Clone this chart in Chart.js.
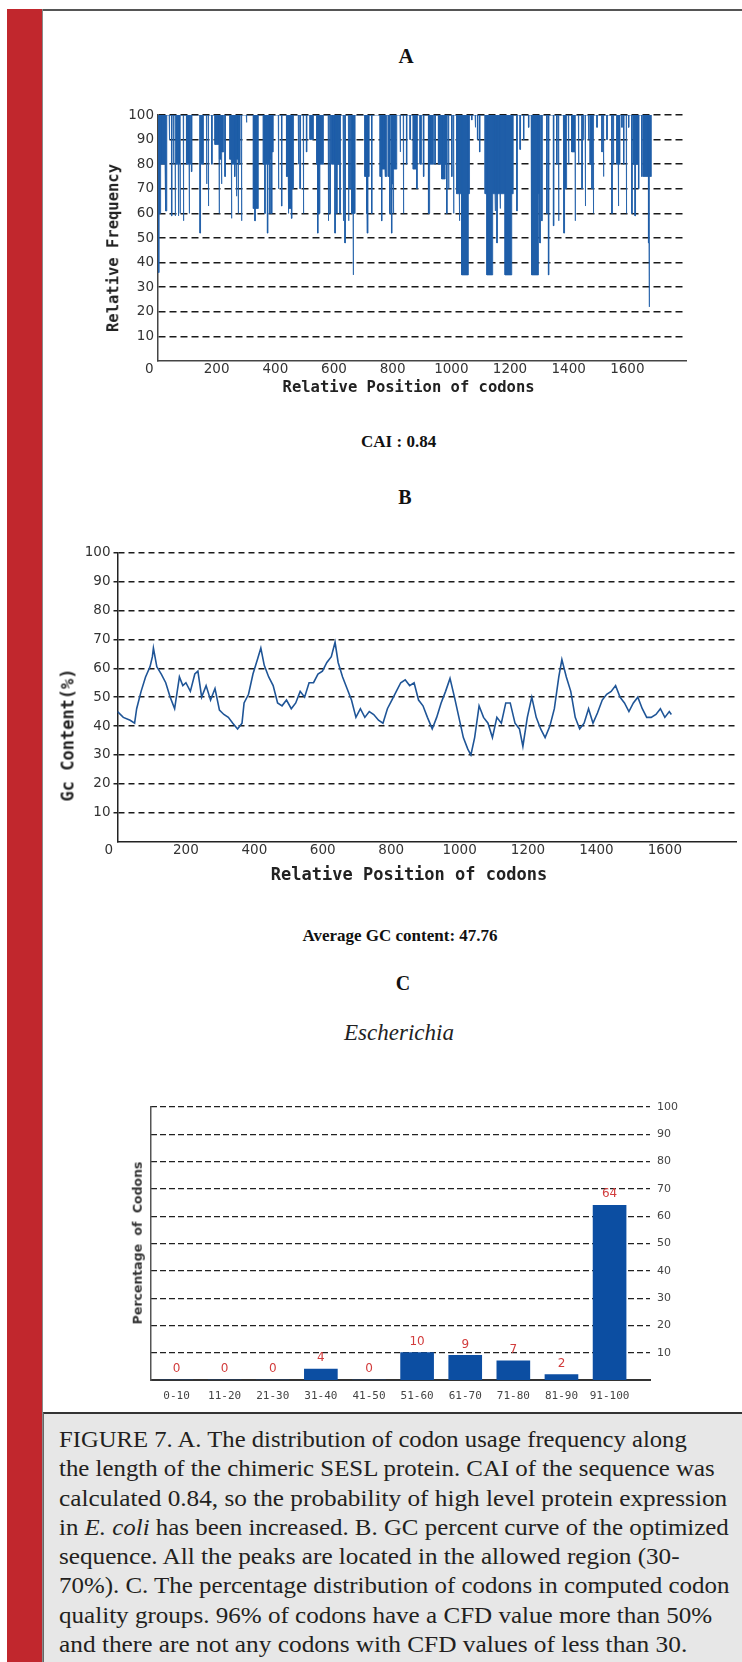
<!DOCTYPE html>
<html>
<head>
<meta charset="utf-8">
<script src="https://cdn.jsdelivr.net/npm/chart.js@4.4.1/dist/chart.umd.min.js"></script>
<style>
  html, body { margin: 0; padding: 0; background: #fff; }
  body { width: 742px; height: 1662px; position: relative; overflow: hidden; }
  #redbar { position: absolute; left: 7px; top: 9px; width: 36px; height: 1653px; background: #c1272d; border-right: 1px solid #8a8a8a; box-sizing: border-box; }
  #topline { position: absolute; left: 43px; top: 9px; width: 699px; height: 2px; background: #555; }
  .head { position: absolute; width: 400px; text-align: center; font-family: "Liberation Serif", serif; font-weight: bold; line-height: 1; color: #111; white-space: nowrap; }
  .axt { position: absolute; white-space: nowrap; line-height: 1; font-family: "DejaVu Sans Mono", monospace; font-weight: bold; color: #222; transform: translate(-50%, -50%); }
  .axt.rot { transform: translate(-50%, -50%) rotate(-90deg); }
  #caption { position: absolute; left: 43px; top: 1412px; width: 699px; height: 250px; background: #e7e7e7; border-top: 2px solid #333; border-left: 1px solid #666; box-sizing: border-box; }
  .cl { position: absolute; left: 15px; white-space: nowrap; font-family: "Liberation Serif", serif; font-size: 24px; line-height: 1; color: #231f20; transform-origin: 0 0; }
  canvas { position: absolute; }
</style>
</head>
<body>
<div id="redbar"></div>
<div id="topline"></div>

<div class="head" style="left:206px; top:46px; font-size:21px;">A</div>
<canvas id="chartA" width="698" height="310" style="left:44px; top:95px;"></canvas>
<div class="axt rot" style="left:113.6px; top:248px; font-size:15.5px;">Relative Frequency</div>
<div class="axt" style="left:408.6px; top:388px; font-size:15.5px;">Relative Position of codons</div>
<div class="head" style="left:198.6px; top:432.5px; font-size:17px;">CAI : 0.84</div>

<div class="head" style="left:205px; top:487px; font-size:20px;">B</div>
<canvas id="chartB" width="702" height="370" style="left:40px; top:530px;"></canvas>
<div class="axt rot" style="left:68px; top:735px; font-size:17px;">Gc Content(%)</div>
<div class="axt" style="left:409px; top:874px; font-size:17px;">Relative Position of codons</div>
<div class="head" style="left:200px; top:926.5px; font-size:17px;">Average GC content: 47.76</div>

<div class="head" style="left:203px; top:973px; font-size:20px;">C</div>
<div class="head" style="left:199px; top:1021px; font-size:23px; font-weight:normal; font-style:italic; color:#222;">Escherichia</div>
<canvas id="chartC" width="698" height="320" style="left:44px; top:1090px;"></canvas>
<div class="axt rot" style="left:137.7px; top:1243px; font-size:12.5px; font-family:'DejaVu Sans',sans-serif; word-spacing:4px; color:#333;">Percentage of Codons</div>

<div id="caption">
  <div class="cl" style="top:12.9px;">FIGURE 7. A. The distribution of codon usage frequency along</div>
  <div class="cl" style="top:42.2px;">the length of the chimeric SESL protein. CAI of the sequence was</div>
  <div class="cl" style="top:71.5px;">calculated 0.84, so the probability of high level protein expression</div>
  <div class="cl" style="top:100.8px;">in <i>E. coli</i> has been increased. B. GC percent curve of the optimized</div>
  <div class="cl" style="top:130.1px;">sequence. All the peaks are located in the allowed region (30-</div>
  <div class="cl" style="top:159.4px;">70%). C. The percentage distribution of codons in computed codon</div>
  <div class="cl" style="top:188.7px;">quality groups. 96% of codons have a CFD value more than 50%</div>
  <div class="cl" style="top:218px;">and there are not any codons with CFD values of less than 30.</div>
</div>

<script>
// ---- Panel A: relative codon usage frequency along the sequence ----
// Each entry is a run of codons [start, end) whose relative frequency drops below 100.
const dipStart = [1,4,9,27,38,46,52,58,63,69,71,75,86,97,106,108,114,143,148,165,171,183,
  194,208,210,216,218,228,245,250,252,261,263,267,269,273,275,284,301,325,330,332,
  359,364,366,373,375,381,383,387,389,410,421,438,444,446,455,457,478,484,495,506,518,
  541,544,546,552,580,586,592,603,605,609,611,620,631,637,649,654,660,665,667,
  705,711,714,716,728,757,762,764,774,776,785,790,796,798,802,804,825,836,847,859,870,882,
  893,905,922,927,944,956,967,979,984,990,1001,1007,1018,1027,1029,1035,1058,
  1069,1081,1089,1096,1115,1121,1141,1149,1151,1155,1157,1166,1168,1183,1206,
  1223,1234,1246,1263,1272,1274,1297,1302,1308,1325,1331,1348,1359,1365,
  1382,1384,1386,1399,1410,1422,1433,1445,1450,1456,1467,1473,1479,1481,1484,
  1496,1513,1518,1530,1547,1552,1564,1569,1571,1581,1587,1596,1604,
  1615,1621,1626,1628,1638,1649,1655,1672,1674,1676];
const dipEnd = [4,9,24,30,40,48,54,60,69,71,75,77,88,106,108,112,116,145,155,167,173,185,
  208,210,216,218,224,230,250,252,261,263,267,269,273,275,280,286,303,330,332,342,
  364,366,373,375,381,383,387,389,393,412,423,444,446,455,457,462,480,486,497,508,530,
  544,546,552,564,582,588,603,605,609,611,620,622,633,639,651,656,665,667,672,
  711,713,716,720,730,762,764,774,776,780,790,792,798,802,804,814,827,838,849,861,882,884,
  899,907,924,939,946,967,979,984,986,992,1003,1009,1027,1029,1035,1058,1062,
  1071,1083,1091,1098,1121,1141,1149,1151,1155,1157,1166,1168,1183,1206,1211,
  1225,1236,1248,1265,1274,1297,1300,1304,1310,1327,1333,1350,1361,1367,
  1384,1386,1393,1401,1422,1424,1435,1447,1452,1458,1469,1479,1481,1484,1486,
  1498,1515,1520,1532,1549,1554,1569,1571,1575,1583,1589,1598,1606,
  1617,1626,1628,1638,1640,1651,1672,1674,1676,1681];
const dipLevel = [36,60,80,61,90,59,80,59,80,59,80,60,57,80,60,80,77,52,80,72,63,80,
  88,60,82,72,85,75,82,58,80,75,80,67,82,60,80,57,97,62,57,62,
  80,60,80,52,80,60,82,60,85,70,63,75,60,62,58,70,80,70,60,85,90,
  80,52,60,80,57,60,80,52,80,60,80,60,57,48,57,70,60,35,60,
  75,60,52,75,60,75,57,78,80,75,75,60,52,72,60,78,85,60,80,90,78,70,
  80,75,60,80,80,80,74,80,60,70,75,60,68,57,68,35,68,
  98,95,90,85,68,35,68,61,68,48,68,62,68,35,68,
  61,86,90,95,68,35,68,48,57,60,35,55,80,57,
  70,52,70,80,85,57,80,70,90,63,90,80,70,80,60,
  95,85,75,90,60,80,80,63,80,95,80,60,95,
  60,80,59,80,70,75,75,48,22,75];
const codonCount = 1683;
const freqTicksY = [10,20,30,40,50,60,70,80,90,100];
const posTicks = [0,200,400,600,800,1000,1200,1400,1600];

// ---- Panel B: GC content (%) along the sequence ----
const gcPos = [0,17,37,50,56,69,82,95,102,105,115,128,141,154,167,181,191,200,213,226,235,246,259,272,285,
  298,311,324,337,351,364,370,383,396,409,419,429,442,455,468,481,494,508,521,534,547,560,573,586,599,
  612,625,636,645,658,671,684,697,710,723,736,749,763,776,789,802,815,828,841,854,867,880,893,906,920,
  933,946,959,972,985,998,1011,1024,1033,1044,1057,1070,1083,1096,1109,1122,1135,1148,1162,1175,1185,
  1198,1211,1224,1237,1250,1264,1277,1290,1299,1312,1325,1338,1351,1364,1377,1390,1403,1417,1430,1443,
  1456,1469,1482,1495,1508,1521,1534,1547,1560,1574,1587,1600,1613,1619];
const gcVal = [45,43,42,41,46,52,57,60.5,64,67,60.5,58,55,50,46,57,54,55,52,58,59,50,54,49,53,
  45.5,44,43,41,39,41,48,51,58,63,67,61,57,54,48,47,49,46,48,52,50,55,55,58,59,
  62,64,69,62,57,53,49,43,46,43,45,44,42,41,46,49,52,55,56,54,55,49,47,43,39,
  43,48,52,56.5,50,43,36,32,30,36,47,43,41,36,43,41,48,48,41,39,33,
  43,50,43,39,36,40,46,57,63,57,52,43,39,41,46,41,44.5,49,51,52,
  54,50,48,45,48,50,46,43,43,44,46,43,45,44];
const gcTicksY = [10,20,30,40,50,60,70,80,90,100];

// ---- Panel C: codon quality groups (CFD) ----
const cfdGroups = ['0-10','11-20','21-30','31-40','41-50','51-60','61-70','71-80','81-90','91-100'];
const cfdPercent = [0,0,0,4,0,10,9,7,2,64];
const pctTicks = [10,20,30,40,50,60,70,80,90,100];

// ---- caption column: right edge of each line ----
const captionRight = [687, 715, 727, 729, 679.5, 729, 712, 687];

// ---------------------------------------------------------------
Chart.defaults.animation = false;
Chart.defaults.responsive = false;
Chart.defaults.maintainAspectRatio = false;
Chart.defaults.plugins.legend.display = false;
Chart.defaults.plugins.tooltip.enabled = false;

const setTicks = vals => scale => { scale.ticks = vals.map(v => ({ value: v })); };
const plain = v => String(v);
// the origin label sits a little left of the corner, as in the plotting tool's output
const posLabel = v => (v === 0 ? '0\u2007\u2007' : String(v));
const tickFont = { family: '"DejaVu Sans", sans-serif', size: 13.5 };

// Panel A: outline hanging from 100, filled up to the top of the scale
const freqPoints = [{ x: 0, y: 100 }];
dipStart.forEach((s, i) => {
  freqPoints.push({ x: s, y: 100 });
  freqPoints.push({ x: s, y: dipLevel[i] });
  freqPoints.push({ x: dipEnd[i], y: dipLevel[i] });
  freqPoints.push({ x: dipEnd[i], y: 100 });
});
freqPoints.push({ x: codonCount, y: 100 });

new Chart(document.getElementById('chartA'), {
  type: 'line',
  data: {
    datasets: [{
      data: freqPoints,
      fill: 'end',
      backgroundColor: '#1f5ea8',
      borderColor: '#1f5ea8',
      borderWidth: 0.8,
      pointRadius: 0,
      tension: 0
    }]
  },
  options: {
    layout: { padding: { top: 20, right: 56, left: 0, bottom: 0 } },
    scales: {
      x: {
        type: 'linear', min: 0, max: 1800,
        afterBuildTicks: setTicks(posTicks),
        afterFit: s => { s.height = 44; },
        grid: { display: false, drawTicks: false },
        border: { color: '#444', width: 1.5 },
        ticks: { font: tickFont, color: '#333', padding: 0, autoSkip: false, maxRotation: 0, callback: posLabel }
      },
      y: {
        min: 0, max: 100, z: 1,
        afterBuildTicks: setTicks(freqTicksY),
        afterFit: s => { s.width = 114; },
        grid: { color: '#1a1a1a', lineWidth: 1.5, drawTicks: false },
        border: { color: '#444', width: 1.5, dash: [7, 4] },
        ticks: { font: tickFont, color: '#333', padding: 4, callback: plain }
      }
    }
  }
});

// Panel B: GC content curve
new Chart(document.getElementById('chartB'), {
  type: 'line',
  data: {
    datasets: [{
      data: gcPos.map((p, i) => ({ x: p, y: gcVal[i] })),
      borderColor: '#1f5597',
      borderWidth: 1.6,
      pointRadius: 0,
      tension: 0,
      fill: false
    }]
  },
  options: {
    layout: { padding: { top: 22.7, right: 6, left: 0, bottom: 0 } },
    scales: {
      x: {
        type: 'linear', min: 0, max: 1808,
        afterBuildTicks: setTicks(posTicks),
        afterFit: s => { s.height = 58.4; },
        grid: { display: false, drawTicks: false },
        border: { color: '#222', width: 1.5 },
        ticks: { font: tickFont, color: '#333', padding: 1, autoSkip: false, maxRotation: 0, callback: posLabel }
      },
      y: {
        min: 0, max: 100,
        afterBuildTicks: setTicks(gcTicksY),
        afterFit: s => { s.width = 77.5; },
        grid: { color: '#1a1a1a', lineWidth: 1.5, drawTicks: true, tickLength: 4, tickColor: '#222', tickBorderDash: [] },
        border: { color: '#222', width: 1.5, dash: [6, 4] },
        ticks: { font: tickFont, color: '#333', padding: 3, callback: plain }
      }
    }
  }
});

// Panel C: value labels above each bar
const barValueLabels = {
  id: 'barValueLabels',
  afterDatasetsDraw(chart) {
    const { ctx } = chart;
    const meta = chart.getDatasetMeta(0);
    ctx.save();
    ctx.font = '12px "DejaVu Sans", sans-serif';
    ctx.fillStyle = '#d23c3c';
    ctx.textAlign = 'center';
    ctx.textBaseline = 'bottom';
    meta.data.forEach((bar, i) => ctx.fillText(String(cfdPercent[i]), bar.x, bar.y - 5));
    ctx.restore();
  }
};

new Chart(document.getElementById('chartC'), {
  type: 'bar',
  data: {
    datasets: [{
      data: cfdPercent.map((v, i) => ({ x: i, y: v })),
      backgroundColor: '#0c4ea2',
      barThickness: 33,
      yAxisID: 'y'
    }]
  },
  options: {
    layout: { padding: { top: 17, right: 0, left: 0, bottom: 0 } },
    scales: {
      x: {
        type: 'linear', min: -0.53, max: 9.84, offset: false,
        afterBuildTicks: setTicks(cfdGroups.map((g, i) => i)),
        afterFit: s => { s.height = 30; },
        grid: { display: false, drawTicks: false },
        border: { color: '#333', width: 2 },
        ticks: {
          font: { family: '"DejaVu Sans Mono", monospace', size: 11 }, color: '#444',
          padding: 10, autoSkip: false, maxRotation: 0,
          callback: v => cfdGroups[v]
        }
      },
      y: {
        position: 'right', min: 0, max: 100,
        afterBuildTicks: setTicks(pctTicks),
        afterFit: s => { s.width = 92; },
        grid: { color: '#222', lineWidth: 1.2, drawTicks: false },
        border: { display: false, dash: [6, 3] },
        ticks: { font: { family: '"DejaVu Sans", sans-serif', size: 11 }, color: '#444', padding: 7, callback: plain }
      },
      yLeft: {
        type: 'linear', position: 'left', min: 0, max: 100,
        afterFit: s => { s.width = 107; },
        grid: { display: false, drawTicks: false },
        border: { color: '#555', width: 1.5 },
        ticks: { display: false }
      }
    }
  },
  plugins: [barValueLabels]
});

// Caption: narrow each serif line to the column's ragged right edge
document.querySelectorAll('.cl').forEach((el, i) => {
  const f = (captionRight[i] - 59) / el.offsetWidth;
  el.style.transform = 'scaleX(' + f + ')';
});
</script>
</body>
</html>
